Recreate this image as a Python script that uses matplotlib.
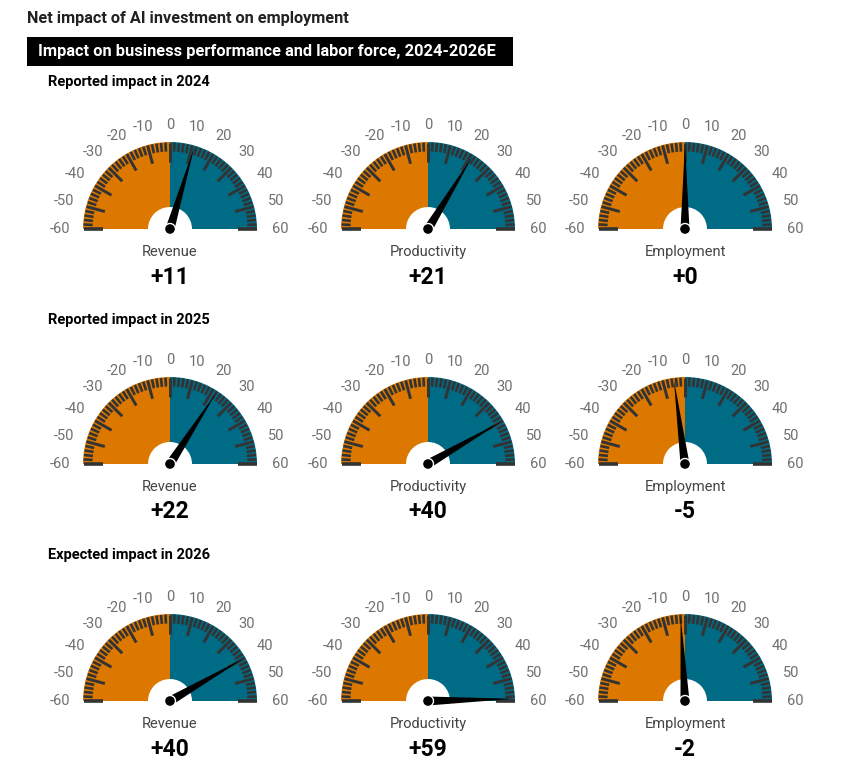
import numpy as np
import matplotlib
matplotlib.use('Agg')
import matplotlib.pyplot as plt
from matplotlib.patches import Wedge, Circle, Polygon, Rectangle

plt.rcParams['font.family'] = ['Roboto', 'DejaVu Sans']

title = 'Net impact of AI investment on employment'
subtitle = 'Impact on business performance and labor force, 2024-2026E'
sections = ['Reported impact in 2024', 'Reported impact in 2025', 'Expected impact in 2026']
metrics = ['Revenue', 'Productivity', 'Employment']
revenue = [11, 22, 40]
productivity = [21, 40, 59]
employment = [0, -5, -2]
scale_labels = [-60, -50, -40, -30, -20, -10, 0, 10, 20, 30, 40, 50, 60]

orange = '#dc7800'
teal = '#006b85'
tickc = '#333333'

W, H = 865, 773
fig = plt.figure(figsize=(W / 100, H / 100), dpi=100)
ax = fig.add_axes([0, 0, 1, 1])
ax.set_xlim(0, W)
ax.set_ylim(0, H)
ax.axis('off')

def Y(y):
    return H - y

R = 87
r_in = 22

def gauge(cx, cy, val, name):
    cy = Y(cy)
    ax.add_patch(Wedge((cx, cy), R, 90, 180, color=orange, lw=0))
    ax.add_patch(Wedge((cx, cy), R, 0, 90, color=teal, lw=0))
    ax.add_patch(Circle((cx, cy), r_in, color='white', lw=0))
    for v in range(-60, 61, 2):
        th = np.radians(90 - 1.5 * v)
        major = v % 10 == 0
        ln = 19 if major else 9
        r1, r2 = R - 0.5, R - 0.5 - ln
        lw = 2.6 if abs(v) == 60 else (2.1 if major else 1.9)
        ax.plot([cx + r1 * np.cos(th), cx + r2 * np.cos(th)],
                [cy + r1 * np.sin(th), cy + r2 * np.sin(th)],
                color=tickc, lw=lw, solid_capstyle='butt')
    for v in scale_labels:
        th = np.radians(90 - 1.5 * v)
        rl = 104 + 6 * abs(np.cos(th))
        ax.text(cx + rl * np.cos(th), cy + rl * np.sin(th), str(v),
                ha='center', va='center', fontsize=10.5, color='#707070')
    # needle
    th = np.radians(90 - 1.5 * val)
    L = 85
    hw = 4.5
    px, py = -np.sin(th), np.cos(th)
    pts = [(cx + L * np.cos(th), cy + L * np.sin(th)),
           (cx + hw * px, cy + hw * py),
           (cx - hw * px, cy - hw * py)]
    ax.add_patch(Polygon(pts, closed=True, color='black', lw=0, zorder=5))
    ax.add_patch(Circle((cx, cy), 5.5, facecolor='black', edgecolor='white', lw=1, zorder=6))
    ax.text(cx, cy - 23, name, ha='center', va='center', fontsize=10.5, color='#444444')
    ax.text(cx, cy - 48, f'{val:+d}', ha='center', va='center', fontsize=16.5,
            fontweight='bold', color='black')

ax.text(27, Y(18), title, ha='left', va='center', fontsize=11.7, fontweight='bold', color='#222222')
ax.add_patch(Rectangle((27, Y(66)), 486, 29, color='black', lw=0))
ax.text(38, Y(51.5), subtitle, ha='left', va='center', fontsize=11.8, fontweight='bold', color='white')

cols = [170, 428, 685]
rows = [229, 464, 701]
heads = [82, 320, 555]
for i, sec in enumerate(sections):
    ax.text(48, Y(heads[i]), sec, ha='left', va='center', fontsize=10.5, fontweight='bold', color='black')
    vals = [revenue[i], productivity[i], employment[i]]
    for j, m in enumerate(metrics):
        gauge(cols[j], rows[i], vals[j], m)

fig.savefig('out.png', dpi=100, facecolor='white')
